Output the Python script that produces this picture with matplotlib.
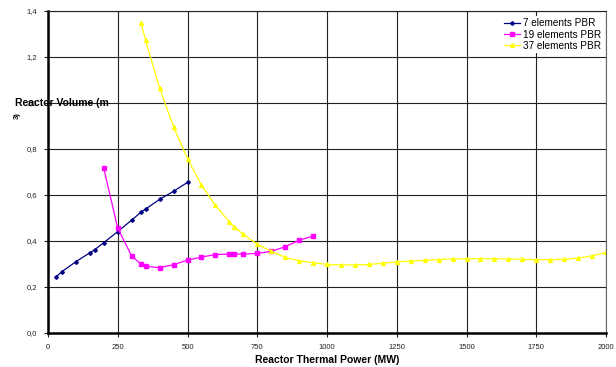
import matplotlib
matplotlib.use("Agg")
import matplotlib.pyplot as plt

plt.rcParams['font.family'] = ['Liberation Sans', 'DejaVu Sans']

# 7 elements PBR
x7 = [30, 50, 100, 150, 167, 200, 250, 300, 333, 350, 400, 450, 500]
y7 = [0.245, 0.267, 0.310, 0.349, 0.362, 0.393, 0.441, 0.491, 0.525, 0.539, 0.581, 0.616, 0.655]

# 19 elements PBR
x19 = [200, 250, 300, 333, 350, 400, 450, 500, 550, 600, 650, 667, 700, 750, 800, 850, 900, 950]
y19 = [0.716, 0.455, 0.335, 0.300, 0.290, 0.284, 0.297, 0.317, 0.330, 0.341, 0.343, 0.343,
       0.343, 0.346, 0.355, 0.375, 0.403, 0.422]

# 37 elements PBR
x37 = [333, 350, 400, 450, 500, 550, 600, 650, 667, 700, 750, 800, 850, 900, 950, 1000,
       1050, 1100, 1150, 1200, 1250, 1300, 1350, 1400, 1450, 1500, 1550, 1600, 1650, 1700,
       1750, 1800, 1850, 1900, 1950, 2000]
y37 = [1.349, 1.272, 1.065, 0.896, 0.758, 0.643, 0.555, 0.483, 0.462, 0.429, 0.386, 0.355,
       0.329, 0.314, 0.306, 0.298, 0.296, 0.296, 0.298, 0.303, 0.309, 0.313, 0.316, 0.319,
       0.322, 0.323, 0.323, 0.323, 0.322, 0.320, 0.319, 0.319, 0.320, 0.326, 0.335, 0.351]

xticks = [0, 250, 500, 750, 1000, 1250, 1500, 1750, 2000]
yticks = [0.0, 0.2, 0.4, 0.6, 0.8, 1.0, 1.2, 1.4]
ytick_labels = ["0,0", "0,2", "0,4", "0,6", "0,8", "1,0", "1,2", "1,4"]

fig = plt.figure(figsize=(6.16, 3.67), dpi=100)
ax = fig.add_axes([48/616, 34/367, (606-48)/616, (333-11)/367])

ax.set_xlim(0, 2000)
ax.set_ylim(0, 1.4)
ax.set_xticks(xticks)
ax.set_xticklabels([str(t) for t in xticks])
ax.set_yticks(yticks)
ax.set_yticklabels(ytick_labels)
ax.tick_params(labelsize=5.5, colors='#222222', length=3, width=0.8, pad=5)
ax.grid(True, color='#222222', linewidth=0.8)
ax.set_axisbelow(True)

for s in ['left', 'bottom']:
    ax.spines[s].set_linewidth(1.8)
    ax.spines[s].set_color('black')
ax.spines['top'].set_linewidth(0.8)
ax.spines['top'].set_color('#222222')
ax.spines['right'].set_linewidth(0.8)
ax.spines['right'].set_color('#666666')

ax.plot(x7, y7, color='#000080', marker='D', markersize=1.9, linewidth=0.9, label='7 elements PBR')
ax.plot(x19, y19, color='#FF00FF', marker='s', markersize=2.6, linewidth=0.9, label='19 elements PBR')
ax.plot(x37, y37, color='#FFFF00', marker='^', markersize=2.8, linewidth=0.9, label='37 elements PBR')

leg = ax.legend(loc='upper right', fontsize=7.2, frameon=True, fancybox=False,
                borderpad=0.25, labelspacing=0.12, handlelength=1.6, handletextpad=0.3,
                bbox_to_anchor=(0.995, 0.985), borderaxespad=0.0)
leg.get_frame().set_facecolor('white')
leg.get_frame().set_edgecolor('none')
leg.get_frame().set_alpha(1)

ax.set_xlabel('Reactor Thermal Power (MW)', fontsize=7.5, fontweight='bold', labelpad=3)

fig.text(15/616, 1 - 103/367, 'Reactor Volume (m', fontsize=7.5, fontweight='bold',
         va='center', ha='left')
fig.text(14/616, 1 - 116/367, '3)', fontsize=5.5, fontweight='bold', rotation=90,
         va='center', ha='left')

fig.savefig('out.png', dpi=100)
